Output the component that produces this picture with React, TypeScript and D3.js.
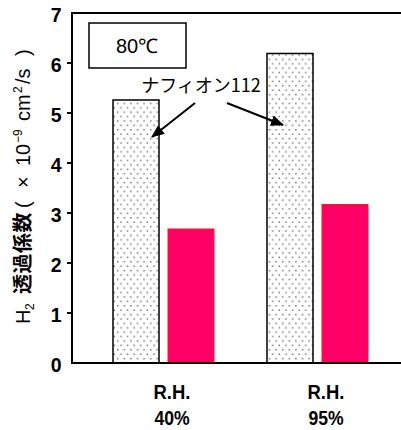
import React from "react";
import * as d3 from "d3";

const categories = ["R.H.\n40%", "R.H.\n95%"];
const seriesNames = ["ナフィオン112", "other"];
const nafionValues = [5.26, 6.19];
const otherValues = [2.68, 3.17];
const yTicks = [0, 1, 2, 3, 4, 5, 6, 7];

const W = 401;
const H = 430;
const left = 72;
const top = 13;
const bottom = 363;
const right = 401;

export default function App() {
  const y = d3.scaleLinear().domain([0, 7]).range([bottom, top]);
  const x = d3.scaleBand().domain(categories).range([95, 403]);
  const xs = d3.scaleBand().domain(seriesNames).range([-59, 42]).paddingInner(0.1636);
  const tickFont = "'Liberation Sans', Arial, sans-serif";
  const cjkFont = "'Noto Sans CJK JP', 'Liberation Sans', sans-serif";

  const arrows = [
    { x1: 195, y1: 103, x2: 152, y2: 137 },
    { x1: 227, y1: 103, x2: 283, y2: 125 },
  ];

  return (
    <svg width={W} height={H} style={{ position: "absolute", left: 0, top: 0, background: "#fff" }}>
      <defs>
        <pattern id="dots" width="6.6" height="8.8" patternUnits="userSpaceOnUse">
          <rect width="6.6" height="8.8" fill="#fff" />
          <rect x="1.5" y="1.5" width="1.4" height="1.4" fill="#666" />
          <rect x="4.8" y="5.9" width="1.4" height="1.4" fill="#666" />
        </pattern>
        <marker id="ah" viewBox="0 0 13 11" refX="12" refY="5.5" markerWidth="13" markerHeight="11" markerUnits="userSpaceOnUse" orient="auto">
          <path d="M0,0 L13,5.5 L0,11 Z" fill="#000" />
        </marker>
      </defs>

      {/* bars */}
      {categories.map((c, i) => {
        const cx = x(c)! + x.bandwidth() / 2;
        return (
          <g key={c}>
            <rect
              x={cx + xs(seriesNames[0])!}
              y={y(nafionValues[i])}
              width={xs.bandwidth()}
              height={y(0) - y(nafionValues[i])}
              fill="url(#dots)"
              stroke="#000"
              strokeWidth={1.5}
            />
            <rect
              x={cx + xs(seriesNames[1])!}
              y={y(otherValues[i])}
              width={xs.bandwidth()}
              height={y(0) - y(otherValues[i])}
              fill="#FF0066"
              stroke="#FF1A1A"
              strokeWidth={1}
            />
          </g>
        );
      })}

      {/* frame lines */}
      <line x1={left} x2={right} y1={top} y2={top} stroke="#000" strokeWidth={2} />
      <line x1={left} x2={left} y1={top - 1} y2={bottom + 1} stroke="#000" strokeWidth={2} />
      <line x1={left - 1} x2={right} y1={bottom} y2={bottom} stroke="#000" strokeWidth={2} />

      {/* y ticks */}
      {yTicks.map((t) => (
        <g key={t}>
          {t > 0 && t < 7 && (
            <line x1={left - 5} x2={left} y1={y(t)} y2={y(t)} stroke="#000" strokeWidth={2} />
          )}
          <text
            x={61.5}
            y={y(t) + 1.5}
            dy="0.36em"
            textAnchor="end"
            fontFamily={tickFont}
            fontWeight="bold"
            fontSize={19.5}
          >
            {t}
          </text>
        </g>
      ))}

      {/* x labels */}
      {categories.map((c) => {
        const cx = x(c)! + x.bandwidth() / 2;
        const [l1, l2] = c.split("\n");
        return (
          <g key={c} transform={`translate(${cx},0) scale(0.88,1)`}>
            <text x={0} y={399} textAnchor="middle" fontFamily={tickFont} fontWeight="bold" fontSize={21}>
              {l1}
            </text>
            <text x={0} y={425} textAnchor="middle" fontFamily={tickFont} fontWeight="bold" fontSize={20}>
              {l2}
            </text>
          </g>
        );
      })}

      {/* y axis title */}
      <g transform="translate(30,0) rotate(-90)" fontSize={20}>
        <text x={-324} y={0} fontFamily={tickFont}>H</text>
        <text x={-310} y={4} fontFamily={tickFont} fontSize={12}>2</text>
        <text x={-294} y={0} fontFamily={cjkFont} fontWeight="bold" letterSpacing={0.5}>透過係数</text>
        <text x={-208} y={0} fontFamily={tickFont}>(</text>
        <text x={-188} y={0} fontFamily={tickFont}>×</text>
        <text x={-166} y={0} fontFamily={tickFont}>10</text>
        <text x={-143} y={-8} fontFamily={tickFont} fontSize={12}>−9</text>
        <text x={-121} y={0} fontFamily={tickFont}>cm</text>
        <text x={-93} y={-8} fontFamily={tickFont} fontSize={12}>2</text>
        <text x={-84} y={0} fontFamily={tickFont}>/s</text>
        <text x={-56} y={0} fontFamily={tickFont}>)</text>
      </g>

      {/* 80℃ box */}
      <rect x={89} y={23} width={97} height={45} fill="#fff" stroke="#000" strokeWidth={1.5} />
      <text x={137} y={53} textAnchor="middle" fontFamily={tickFont} fontSize={20}>
        80℃
      </text>

      {/* annotation */}
      <text x={201} y={92} textAnchor="middle" fontFamily={cjkFont} fontSize={18}>
        {seriesNames[0]}
      </text>
      {arrows.map((a, i) => (
        <line key={i} x1={a.x1} y1={a.y1} x2={a.x2} y2={a.y2} stroke="#000" strokeWidth={2} markerEnd="url(#ah)" />
      ))}
    </svg>
  );
}
